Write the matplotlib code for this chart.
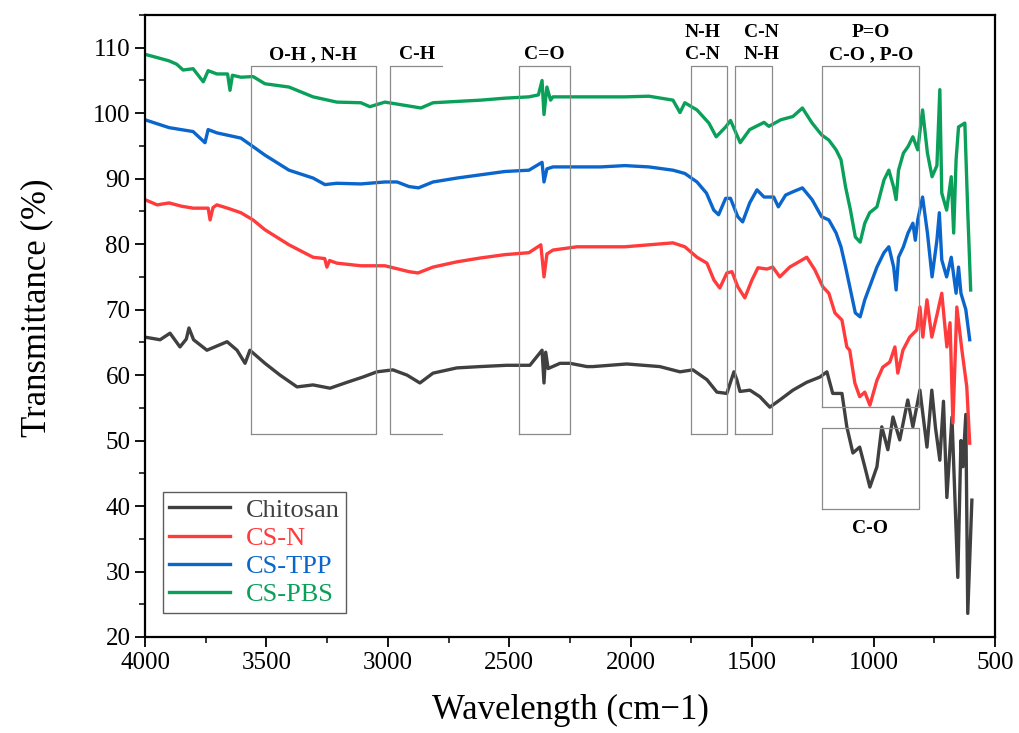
import matplotlib.pyplot as plt
from matplotlib.ticker import MultipleLocator

plt.rcParams['font.family'] = ['Liberation Serif', 'DejaVu Serif']

# spectra: wavenumber (cm-1), transmittance (%)
wn_chitosan = [4000, 3938, 3897, 3856, 3830, 3819, 3800, 3745, 3662, 3621, 3588, 3568, 3506, 3444,
               3374, 3308, 3238, 3168, 3103, 3045, 2979, 2921, 2868, 2814, 2716, 2621, 2510, 2415,
               2365, 2357, 2350, 2340, 2291, 2250, 2180, 2156, 2016, 1880, 1797, 1744, 1686, 1645,
               1604, 1575, 1563, 1550, 1509, 1468, 1427, 1386, 1332, 1275, 1221, 1192, 1168, 1130,
               1110, 1085, 1057, 1036, 1015, 986, 966, 941, 920, 892, 859, 838, 809, 780, 760, 745,
               727, 712, 698, 677, 653, 640, 632, 620, 612, 595]
t_chitosan = [65.8, 65.4, 66.4, 64.3, 65.5, 67.2, 65.4, 63.8, 65.1, 63.8, 61.8, 63.8, 61.8, 60.0,
              58.2, 58.5, 58.0, 58.9, 59.7, 60.5, 60.8, 60.0, 58.8, 60.3, 61.1, 61.3, 61.5, 61.5,
              63.8, 58.8, 63.5, 61.0, 61.8, 61.8, 61.3, 61.3, 61.7, 61.3, 60.5, 60.8, 59.3, 57.4,
              57.2, 60.5, 59.3, 57.5, 57.7, 56.7, 55.1, 56.2, 57.7, 58.9, 59.7, 60.5, 57.2, 57.2,
              52.1, 48.1, 49.0, 46.0, 42.9, 46.0, 52.1, 48.6, 53.6, 50.1, 56.2, 52.1, 57.7, 49.0,
              57.7, 52.0, 47.0, 56.0, 41.3, 53.6, 29.1, 50.0, 46.0, 54.0, 23.6, 40.9]

wn_csn = [4000, 3950, 3901, 3850, 3802, 3740, 3732, 3720, 3704, 3660, 3605, 3555, 3506, 3407,
          3308, 3260, 3251, 3240, 3210, 3111, 3012, 2913, 2876, 2814, 2716, 2617, 2518, 2419,
          2370, 2357, 2345, 2320, 2221, 2123, 2024, 1925, 1826, 1777, 1727, 1686, 1657, 1633,
          1604, 1583, 1559, 1530, 1501, 1476, 1439, 1415, 1386, 1345, 1275, 1242, 1209, 1184,
          1159, 1130, 1110, 1098, 1077, 1057, 1036, 1015, 986, 962, 933, 912, 900, 879, 851,
          822, 809, 797, 780, 760, 740, 719, 698, 685, 673, 657, 636, 616, 604]
t_csn = [86.8, 86.0, 86.3, 85.8, 85.5, 85.5, 83.7, 85.6, 86.0, 85.5, 84.8, 83.7, 82.2, 79.9,
         78.0, 77.8, 76.5, 77.5, 77.1, 76.7, 76.7, 75.8, 75.6, 76.5, 77.3, 77.9, 78.4, 78.7,
         79.9, 75.0, 78.5, 79.1, 79.6, 79.6, 79.6, 79.9, 80.2, 79.6, 78.0, 77.1, 74.5, 73.3,
         75.6, 75.8, 73.5, 71.8, 74.5, 76.4, 76.2, 76.5, 75.0, 76.5, 78.0, 76.1, 73.5, 72.5,
         69.5, 68.4, 64.3, 63.8, 58.8, 56.7, 57.4, 55.4, 59.2, 61.2, 62.0, 64.3, 60.3, 63.8, 65.8,
         66.9, 70.4, 65.8, 71.5, 65.8, 69.0, 72.5, 64.3, 68.0, 52.7, 70.4, 63.8, 58.2, 49.6]

wn_cstpp = [4000, 3901, 3802, 3753, 3740, 3704, 3605, 3555, 3506, 3407, 3308, 3259, 3210, 3111,
            3012, 2962, 2913, 2874, 2814, 2715, 2617, 2518, 2419, 2365, 2357, 2345, 2320, 2221,
            2123, 2024, 1925, 1826, 1777, 1727, 1688, 1658, 1638, 1609, 1589, 1559, 1539, 1510,
            1480, 1451, 1411, 1392, 1362, 1332, 1293, 1253, 1214, 1184, 1154, 1134, 1115, 1095,
            1075, 1055, 1036, 1016, 986, 957, 937, 917, 907, 897, 877, 858, 838, 828, 818, 798,
            778, 759, 739, 729, 719, 699, 680, 660, 650, 640, 620, 604]
t_cstpp = [99.0, 97.8, 97.2, 95.5, 97.5, 97.0, 96.2, 94.9, 93.6, 91.3, 90.1, 89.1, 89.3, 89.2,
           89.5, 89.5, 88.8, 88.6, 89.5, 90.1, 90.6, 91.1, 91.3, 92.5, 89.5, 91.5, 91.8, 91.8,
           91.8, 92.0, 91.8, 91.3, 90.8, 89.5, 87.8, 85.2, 84.5, 87.0, 87.0, 84.2, 83.4, 86.3,
           88.3, 87.2, 87.2, 85.7, 87.5, 88.0, 88.6, 86.8, 84.2, 83.7, 81.7, 79.6, 76.5, 73.0,
           69.5, 68.9, 71.5, 73.5, 76.5, 78.7, 79.6, 76.5, 73.0, 78.0, 79.6, 81.7, 83.2, 80.6,
           83.7, 87.2, 81.7, 75.0, 80.6, 84.8, 77.6, 75.0, 78.0, 72.5, 76.5, 72.5, 70.0, 65.4]

wn_cspbs = [4000, 3950, 3901, 3870, 3843, 3802, 3760, 3740, 3704, 3660, 3650, 3640, 3605, 3555,
            3506, 3407, 3308, 3210, 3111, 3074, 3012, 2913, 2864, 2814, 2716, 2617, 2518, 2419,
            2380, 2365, 2357, 2345, 2330, 2320, 2221, 2123, 2024, 1925, 1826, 1797, 1777, 1727,
            1678, 1648, 1609, 1589, 1549, 1510, 1451, 1431, 1382, 1332, 1293, 1253, 1214, 1184,
            1154, 1134, 1115, 1095, 1075, 1055, 1036, 1016, 986, 957, 937, 917, 907, 897, 877,
            858, 838, 818, 798, 778, 759, 739, 727, 719, 699, 680, 670, 660, 650, 624, 612, 600]
t_cspbs = [109.0, 108.5, 108.0, 107.5, 106.6, 106.8, 104.8, 106.5, 106.0, 106.0, 103.5, 105.8,
           105.5, 105.6, 104.5, 104.0, 102.5, 101.7, 101.6, 101.0, 101.7, 101.1, 100.8, 101.6,
           101.8, 102.0, 102.3, 102.5, 102.8, 105.0, 99.8, 104.0, 102.0, 102.5, 102.5, 102.5,
           102.5, 102.6, 102.0, 100.1, 101.6, 100.5, 98.5, 96.4, 97.9, 98.9, 95.5, 97.5, 98.6,
           98.0, 99.0, 99.5, 100.8, 98.5, 96.7, 95.9, 94.4, 92.9, 88.7, 85.2, 81.1, 80.3, 83.2,
           84.8, 85.7, 89.8, 91.3, 88.7, 86.8, 91.3, 93.9, 94.9, 96.4, 94.4, 100.5, 93.9, 90.3,
           92.0, 103.6, 87.8, 85.2, 90.3, 81.7, 92.9, 97.9, 98.5, 85.0, 73.0]

series = [('Chitosan', wn_chitosan, t_chitosan, '#404040'),
          ('CS-N', wn_csn, t_csn, '#ff3b3b'),
          ('CS-TPP', wn_cstpp, t_cstpp, '#0a66cc'),
          ('CS-PBS', wn_cspbs, t_cspbs, '#0aa05a')]

# band boxes: (left wn, right wn, bottom, top)
boxes = [(3564, 3049, 51.0, 107.2), (2460, 2250, 51.0, 107.2), (1752, 1604, 51.0, 107.2),
         (1571, 1419, 51.0, 107.2), (1213, 813, 55.1, 107.2), (1213, 813, 39.5, 51.9)]
band_labels = [(3308, 'O-H , N-H'), (2880, 'C-H'), (2357, 'C=O'), (1703, 'N-H\nC-N'),
               (1460, 'C-N\nN-H'), (1011, 'P=O\nC-O , P-O')]

fig = plt.figure(figsize=(10.19, 7.33), dpi=100)
ax = fig.add_axes([0.1423, 0.131, 0.8341, 0.8485])

for name, wn, t, c in series:
    ax.plot(wn, t, color=c, lw=2.4, label=name, zorder=2)

for x0, x1, y0, y1 in boxes:
    ax.plot([x0, x1, x1, x0, x0], [y0, y0, y1, y1, y0], color='#8a8a8a', lw=0.9, zorder=3)
# C-H box is open on its right side
ax.plot([2777, 2991, 2991, 2777], [107.2, 107.2, 51.0, 51.0], color='#8a8a8a', lw=0.9, zorder=3)

for x, s in band_labels:
    ax.text(x, 107.6, s, ha='center', va='bottom', fontsize=14, fontweight='bold',
            linespacing=1.45)
ax.text(1015, 36.6, 'C-O', ha='center', va='center', fontsize=14, fontweight='bold')

ax.set_xlim(4000, 500)
ax.set_ylim(20, 115)
ax.xaxis.set_major_locator(MultipleLocator(500))
ax.xaxis.set_minor_locator(MultipleLocator(250))
ax.yaxis.set_minor_locator(MultipleLocator(5))
ax.set_yticks(range(20, 111, 10))
ax.tick_params(which='major', direction='out', length=7, width=1.3, labelsize=18)
ax.tick_params(which='minor', direction='out', length=4, width=1.1)
for sp in ax.spines.values():
    sp.set_linewidth(1.6)

ax.set_xlabel('Wavelength (cm\u22121)', fontsize=25, labelpad=15)
ax.set_ylabel('Transmittance (%)', fontsize=25)
ax.yaxis.set_label_coords(-0.108, 0.53)

leg = ax.legend(loc='lower left', bbox_to_anchor=(0.021, 0.0386), borderaxespad=0,
                fontsize=19, handlelength=2.3, fancybox=False, edgecolor='#333333',
                labelspacing=0.18, borderpad=0.25, handletextpad=0.6)
leg.get_frame().set_linewidth(1.0)
for txt, (_, _, _, c) in zip(leg.get_texts(), series):
    txt.set_color(c)

plt.savefig('out.png', dpi=100)
